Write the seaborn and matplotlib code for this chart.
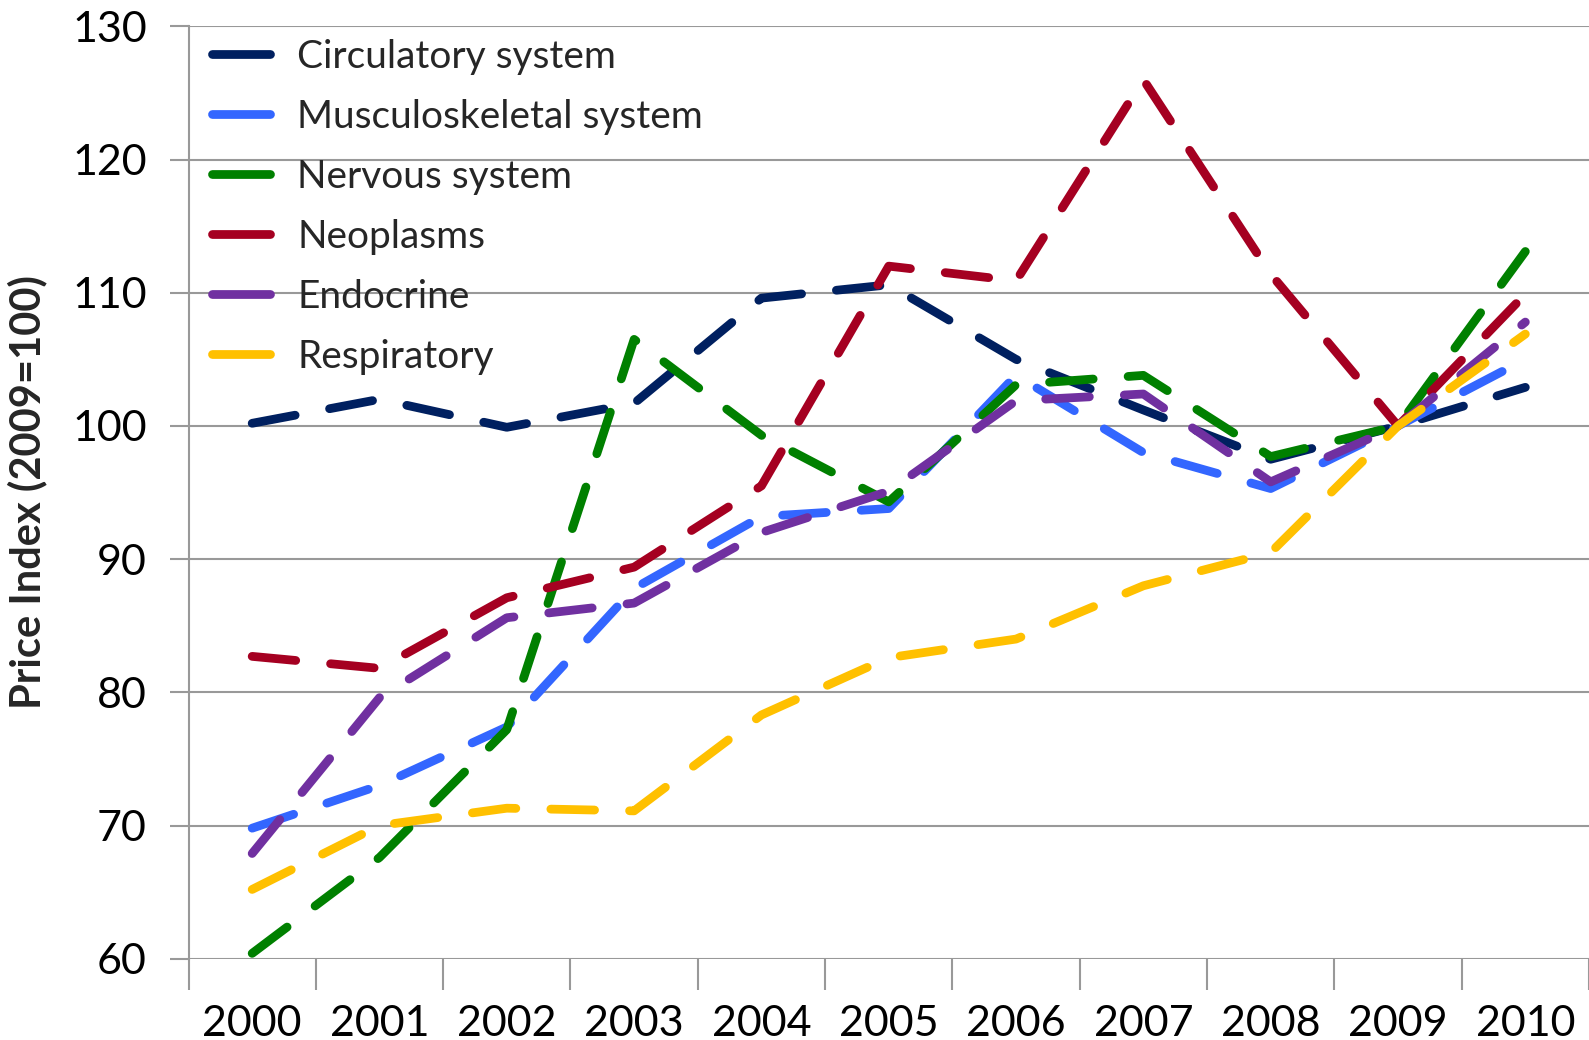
import matplotlib
matplotlib.use("Agg")
import matplotlib.pyplot as plt
import seaborn as sns
import pandas as pd
import numpy as np
from matplotlib.ticker import FixedLocator

years = [2000, 2001, 2002, 2003, 2004, 2005, 2006, 2007, 2008, 2009, 2010]
series_names = ["Circulatory system", "Musculoskeletal system", "Nervous system",
                "Neoplasms", "Endocrine", "Respiratory"]
circulatory = [100.2, 102.0, 99.9, 101.7, 109.6, 110.6, 105.0, 101.2, 97.5, 100.0, 102.9]
musculoskeletal = [69.8, 73.0, 77.4, 87.8, 93.2, 93.8, 103.8, 98.0, 95.3, 100.0, 105.0]
nervous = [60.4, 67.6, 77.2, 106.5, 99.3, 94.3, 103.1, 103.8, 97.7, 100.0, 113.1]
neoplasms = [82.7, 81.8, 87.1, 89.4, 95.5, 112.0, 110.9, 126.0, 111.4, 100.0, 109.9]
endocrine = [67.9, 79.6, 85.6, 86.7, 92.0, 95.1, 101.9, 102.4, 95.8, 100.0, 107.8]
respiratory = [65.2, 70.0, 71.3, 71.1, 78.3, 82.6, 84.0, 88.0, 90.5, 100.0, 106.9]
colors = ["#002060", "#3366FF", "#008000", "#A50021", "#7030A0", "#FFC000"]
yticks = [60, 70, 80, 90, 100, 110, 120, 130]

values = [circulatory, musculoskeletal, nervous, neoplasms, endocrine, respiratory]
df = pd.DataFrame({
    "Year": years * len(series_names),
    "Index": [v for s in values for v in s],
    "Series": [n for n in series_names for _ in years],
})

sns.set_theme(style="white")
plt.rcParams["font.family"] = ["Lato", "DejaVu Sans"]

W, H = 1589, 1040
L, R, T, B = 188.5, 1589, 26.4, 958.7
fig = plt.figure(figsize=(W/100, H/100), dpi=100)
ax = fig.add_axes([L/W, 1 - B/H, (R-L)/W, (B-T)/H])

for name, col in zip(series_names, colors):
    sub = df[df["Series"] == name]
    sns.lineplot(data=sub, x="Year", y="Index", ax=ax, color=col, label=name,
                 linewidth=6.3, linestyle=(0, (5, 4)), dash_capstyle="round",
                 solid_capstyle="round")

ax.set_xlim(1999.5, 2010.5)
ax.set_ylim(60, 130)
ax.set_yticks(yticks)
ax.set_xticks(years)
ax.set_xticklabels([str(y) for y in years])
ax.xaxis.set_minor_locator(FixedLocator(np.arange(1999.5, 2011, 1.0)))
ax.tick_params(axis="x", which="major", length=0, pad=33, labelsize=31, colors="black")
ax.tick_params(axis="x", which="minor", length=22, width=1.5, color="#999999", bottom=True)
ax.tick_params(axis="y", which="major", length=14, width=1.5, color="#999999",
               left=True, labelsize=31, pad=16)
for lab in ax.get_yticklabels() + ax.get_xticklabels():
    lab.set_color("black")

ax.grid(axis="y", color="#999999", linewidth=1.5)
ax.grid(axis="x", visible=False)
for s in ["top", "right", "bottom"]:
    ax.spines[s].set_visible(False)
ax.spines["left"].set_color("#999999")
ax.spines["left"].set_linewidth(1.5)
ax.set_axisbelow(True)

ax.set_xlabel("")
ax.set_ylabel("Price Index (2009=100)", fontsize=30, fontweight="bold", labelpad=18)

leg = ax.legend(loc="upper left", frameon=False, fontsize=28, handlelength=1.5,
                handletextpad=0.7, labelspacing=0.62, bbox_to_anchor=(0.0, 1.012),
                borderaxespad=0.2)
for h in leg.get_lines():
    h.set_linestyle("-")
    h.set_solid_capstyle("round")
    h.set_linewidth(6.3)

fig.savefig("out.png", dpi=100)
